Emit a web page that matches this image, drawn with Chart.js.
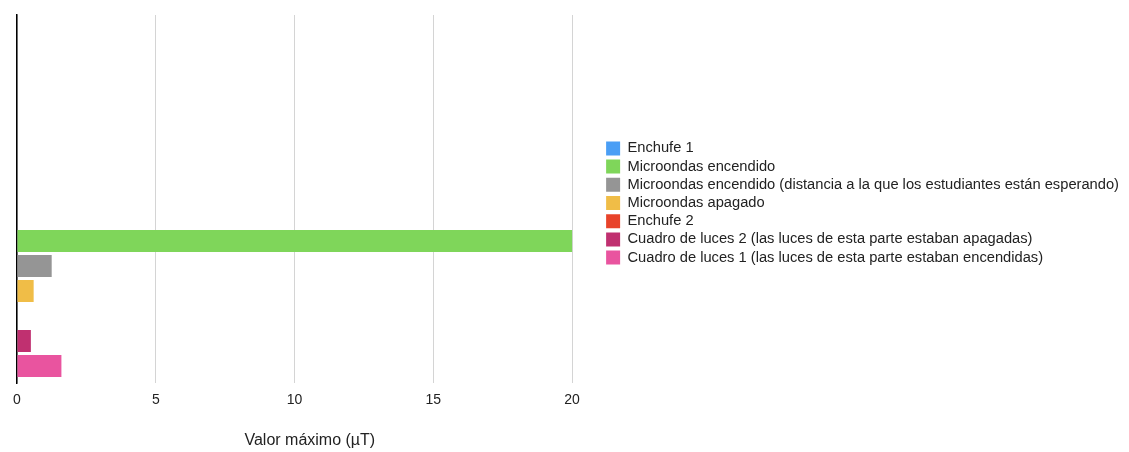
<!DOCTYPE html>
<html>
<head>
<meta charset="utf-8">
<script src="https://cdn.jsdelivr.net/npm/chart.js@4.4.1/dist/chart.umd.min.js"></script>
<style>
  html, body { margin: 0; padding: 0; background: #fff; }
  #wrap { width: 1129px; height: 452px; }
</style>
</head>
<body>
<div id="wrap"><canvas id="chart" width="1129" height="452"></canvas></div>
<script>
// one empty row on top, the measurements in the second row
const rows = ['', ''];

const seriesNames = [
  'Enchufe 1',
  'Microondas encendido',
  'Microondas encendido (distancia a la que los estudiantes están esperando)',
  'Microondas apagado',
  'Enchufe 2',
  'Cuadro de luces 2 (las luces de esta parte estaban apagadas)',
  'Cuadro de luces 1 (las luces de esta parte estaban encendidas)'
];
const maxValues = [0, 20, 1.25, 0.6, 0, 0.5, 1.6];
const seriesColors = ['#4a9ef5', '#7fd65a', '#959595', '#f0bd47', '#e8432a', '#c03070', '#e9549f'];
const xTicks = [0, 5, 10, 15, 20];

const FONT = '"Liberation Sans", Arial, Helvetica, sans-serif';

const datasets = seriesNames.map((name, i) => ({
  label: name,
  data: [null, maxValues[i]],
  backgroundColor: seriesColors[i],
  borderWidth: 0,
  barPercentage: 0.88,
  categoryPercentage: 0.95
}));

const ctx = document.getElementById('chart');
new Chart(ctx, {
  type: 'bar',
  data: { labels: rows, datasets: datasets },
  options: {
    indexAxis: 'y',
    responsive: false,
    animation: false,
    layout: { padding: { left: 9, top: 15, right: 0, bottom: 2 } },
    scales: {
      x: {
        min: 0,
        max: 21.1, // a little room between the 20 line and the legend
        afterBuildTicks: axis => { axis.ticks = xTicks.map(v => ({ value: v })); },
        grid: { color: '#d4d4d4', lineWidth: 1, drawTicks: false },
        border: { display: false },
        ticks: { color: '#222', font: { family: FONT, size: 14 }, padding: 9 },
        title: {
          display: true,
          text: 'Valor máximo (µT)',
          color: '#222',
          font: { family: FONT, size: 16 },
          padding: { top: 13, bottom: 0 }
        }
      },
      y: {
        grid: { display: false },
        border: { display: true, color: '#000', width: 1.5 },
        ticks: { display: false }
      }
    },
    plugins: {
      legend: {
        position: 'right',
        align: 'center',
        fullSize: false,
        maxWidth: 600,
        // empty title only nudges the entries a bit lower
        title: { display: true, text: '', font: { size: 8, lineHeight: 1 }, padding: 0 },
        labels: {
          boxWidth: 14,
          boxHeight: 14,
          padding: 3.5,
          color: '#222',
          font: { family: FONT, size: 14.7 }
        }
      },
      tooltip: { enabled: false }
    }
  }
});
</script>
</body>
</html>
